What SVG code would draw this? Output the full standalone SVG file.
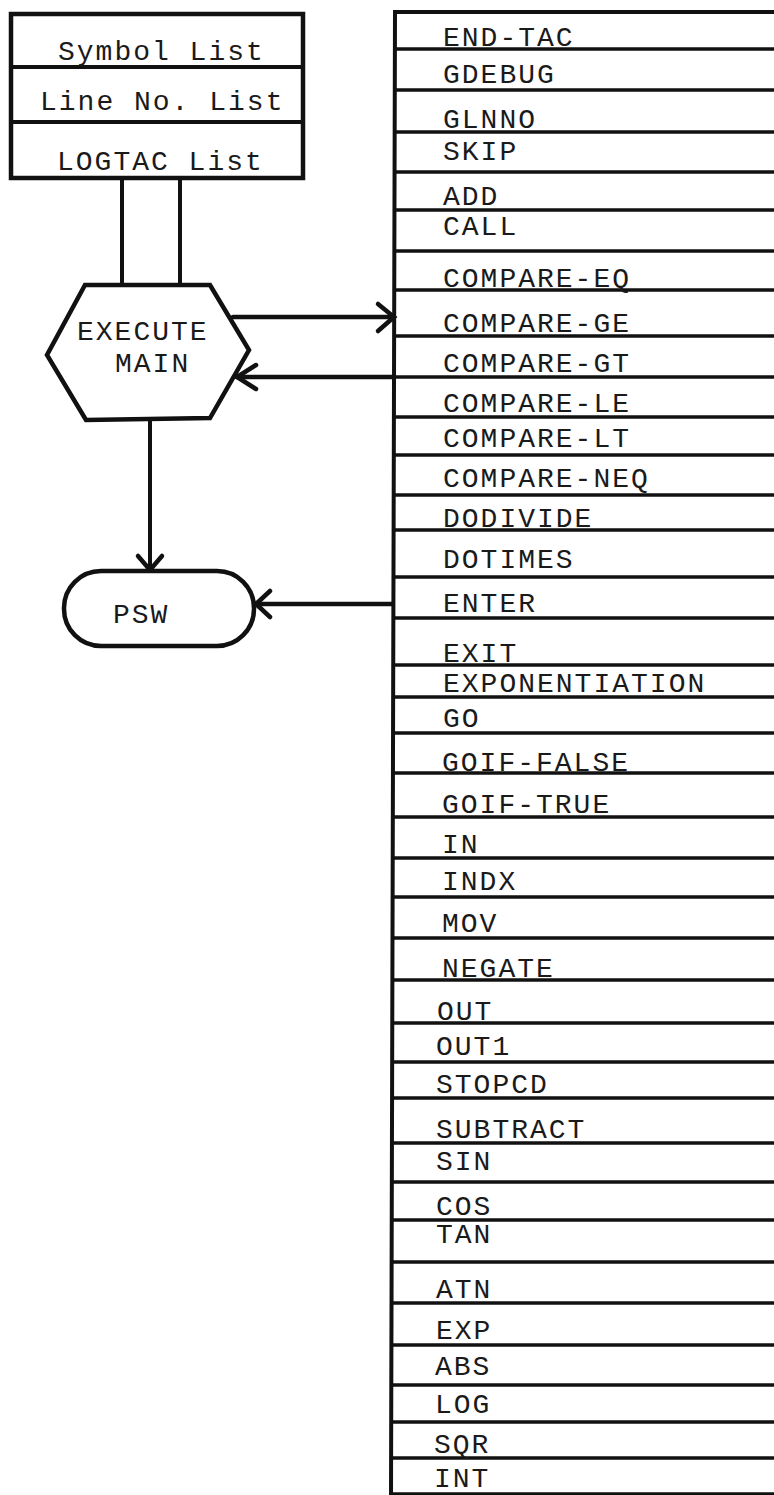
<svg xmlns="http://www.w3.org/2000/svg" width="774" height="1495" viewBox="0 0 774 1495">
<style>
.ln{stroke:#111;stroke-width:4;fill:none;stroke-linecap:square}
.rl{stroke:#111;stroke-width:3.5;fill:none}
.sh{stroke:#111;stroke-width:4.5;fill:#fff;stroke-linejoin:miter}
.tx{font-family:"Liberation Mono","DejaVu Sans Mono",monospace;font-size:28px;letter-spacing:2px;fill:#1a1a1a}
.ar{stroke:#111;stroke-width:4.5;fill:none;stroke-linecap:round;stroke-linejoin:miter}
</style>
<rect width="774" height="1495" fill="#fff"/>

<g id="connectors">
  <line class="ln" x1="122" y1="178" x2="122" y2="284"/>
  <line class="ln" x1="180" y1="178" x2="180" y2="284"/>
  <line class="ar" x1="233" y1="317" x2="393" y2="317"/>
  <polyline class="ar" points="378,304 394,317 378,331"/>
  <line class="ar" x1="393" y1="377" x2="237" y2="377"/>
  <polyline class="ar" points="256,365 237,377 256,389"/>
  <line class="ln" x1="150" y1="420" x2="150" y2="570"/>
  <polyline class="ar" points="138,556 150,570 162,556"/>
  <line class="ar" x1="392" y1="604" x2="256" y2="604"/>
  <polyline class="ar" points="270,591 256,604 270,617"/>
</g>

<g id="lists-box">
  <rect class="sh" x="11" y="14" width="292" height="164"/>
  <line class="ln" x1="11" y1="67" x2="303" y2="67"/>
  <line class="ln" x1="11" y1="122" x2="303" y2="122"/>
  <text class="tx" x="58" y="60">Symbol List</text>
  <text class="tx" x="40" y="110">Line No. List</text>
  <text class="tx" x="57" y="170">LOGTAC List</text>
</g>

<g id="execute-main">
  <polygon class="sh" points="85,285 210,285 249,350 210,418 86,420 47,355"/>
  <text class="tx" x="77" y="340">EXECUTE</text>
  <text class="tx" x="115" y="372">MAIN</text>
</g>

<g id="psw">
  <rect class="sh" x="64" y="571" width="190" height="75" rx="37" ry="37"/>
  <text class="tx" x="113" y="623">PSW</text>
</g>

<g id="tac-list">
  <line class="ln" x1="395" y1="12" x2="774" y2="12"/>
  <line class="ln" x1="395" y1="12" x2="391" y2="1495"/>
  <g class="rows">
    <line class="rl" x1="395" y1="49" x2="774" y2="49"/>
    <line class="rl" x1="395" y1="90" x2="774" y2="90"/>
    <line class="rl" x1="395" y1="132" x2="774" y2="132"/>
    <line class="rl" x1="395" y1="172" x2="774" y2="172"/>
    <line class="rl" x1="395" y1="210" x2="774" y2="210"/>
    <line class="rl" x1="395" y1="251" x2="774" y2="251"/>
    <line class="rl" x1="395" y1="290" x2="774" y2="290"/>
    <line class="rl" x1="395" y1="336" x2="774" y2="336"/>
    <line class="rl" x1="395" y1="377" x2="774" y2="377"/>
    <line class="rl" x1="395" y1="417" x2="774" y2="417"/>
    <line class="rl" x1="395" y1="455" x2="774" y2="455"/>
    <line class="rl" x1="394" y1="495" x2="774" y2="495"/>
    <line class="rl" x1="394" y1="530" x2="774" y2="530"/>
    <line class="rl" x1="394" y1="577" x2="774" y2="577"/>
    <line class="rl" x1="394" y1="618" x2="774" y2="618"/>
    <line class="rl" x1="394" y1="665" x2="774" y2="665"/>
    <line class="rl" x1="394" y1="697" x2="774" y2="697"/>
    <line class="rl" x1="394" y1="733" x2="774" y2="733"/>
    <line class="rl" x1="393" y1="773" x2="774" y2="773"/>
    <line class="rl" x1="393" y1="817" x2="774" y2="817"/>
    <line class="rl" x1="393" y1="858" x2="774" y2="858"/>
    <line class="rl" x1="393" y1="897" x2="774" y2="897"/>
    <line class="rl" x1="393" y1="938" x2="774" y2="938"/>
    <line class="rl" x1="393" y1="980" x2="774" y2="980"/>
    <line class="rl" x1="392" y1="1023" x2="774" y2="1023"/>
    <line class="rl" x1="392" y1="1062" x2="774" y2="1062"/>
    <line class="rl" x1="392" y1="1098" x2="774" y2="1098"/>
    <line class="rl" x1="392" y1="1143" x2="774" y2="1143"/>
    <line class="rl" x1="392" y1="1182" x2="774" y2="1182"/>
    <line class="rl" x1="392" y1="1220" x2="774" y2="1220"/>
    <line class="rl" x1="392" y1="1262" x2="774" y2="1262"/>
    <line class="rl" x1="392" y1="1303" x2="774" y2="1303"/>
    <line class="rl" x1="391" y1="1345" x2="774" y2="1345"/>
    <line class="rl" x1="391" y1="1385" x2="774" y2="1385"/>
    <line class="rl" x1="391" y1="1422" x2="774" y2="1422"/>
    <line class="rl" x1="391" y1="1458" x2="774" y2="1458"/>
    <line class="rl" x1="391" y1="1494" x2="774" y2="1494"/>
  </g>
  <g class="labels">
    <text class="tx" x="443" y="46">END-TAC</text>
    <text class="tx" x="443" y="83">GDEBUG</text>
    <text class="tx" x="443" y="128">GLNNO</text>
    <text class="tx" x="443" y="160">SKIP</text>
    <text class="tx" x="443" y="205">ADD</text>
    <text class="tx" x="443" y="235">CALL</text>
    <text class="tx" x="443" y="287">COMPARE-EQ</text>
    <text class="tx" x="443" y="332">COMPARE-GE</text>
    <text class="tx" x="443" y="372">COMPARE-GT</text>
    <text class="tx" x="443" y="412">COMPARE-LE</text>
    <text class="tx" x="443" y="447">COMPARE-LT</text>
    <text class="tx" x="443" y="487">COMPARE-NEQ</text>
    <text class="tx" x="443" y="527">DODIVIDE</text>
    <text class="tx" x="443" y="568">DOTIMES</text>
    <text class="tx" x="443" y="612">ENTER</text>
    <text class="tx" x="443" y="662">EXIT</text>
    <text class="tx" x="443" y="692">EXPONENTIATION</text>
    <text class="tx" x="443" y="727">GO</text>
    <text class="tx" x="442" y="771">GOIF-FALSE</text>
    <text class="tx" x="442" y="813">GOIF-TRUE</text>
    <text class="tx" x="442" y="853">IN</text>
    <text class="tx" x="442" y="890">INDX</text>
    <text class="tx" x="442" y="932">MOV</text>
    <text class="tx" x="442" y="977">NEGATE</text>
    <text class="tx" x="437" y="1020">OUT</text>
    <text class="tx" x="436" y="1055">OUT1</text>
    <text class="tx" x="436" y="1093">STOPCD</text>
    <text class="tx" x="436" y="1138">SUBTRACT</text>
    <text class="tx" x="436" y="1170">SIN</text>
    <text class="tx" x="436" y="1215">COS</text>
    <text class="tx" x="436" y="1243">TAN</text>
    <text class="tx" x="436" y="1298">ATN</text>
    <text class="tx" x="436" y="1339">EXP</text>
    <text class="tx" x="435" y="1375">ABS</text>
    <text class="tx" x="435" y="1413">LOG</text>
    <text class="tx" x="434" y="1453">SQR</text>
    <text class="tx" x="434" y="1487">INT</text>
  </g>
</g>
</svg>
